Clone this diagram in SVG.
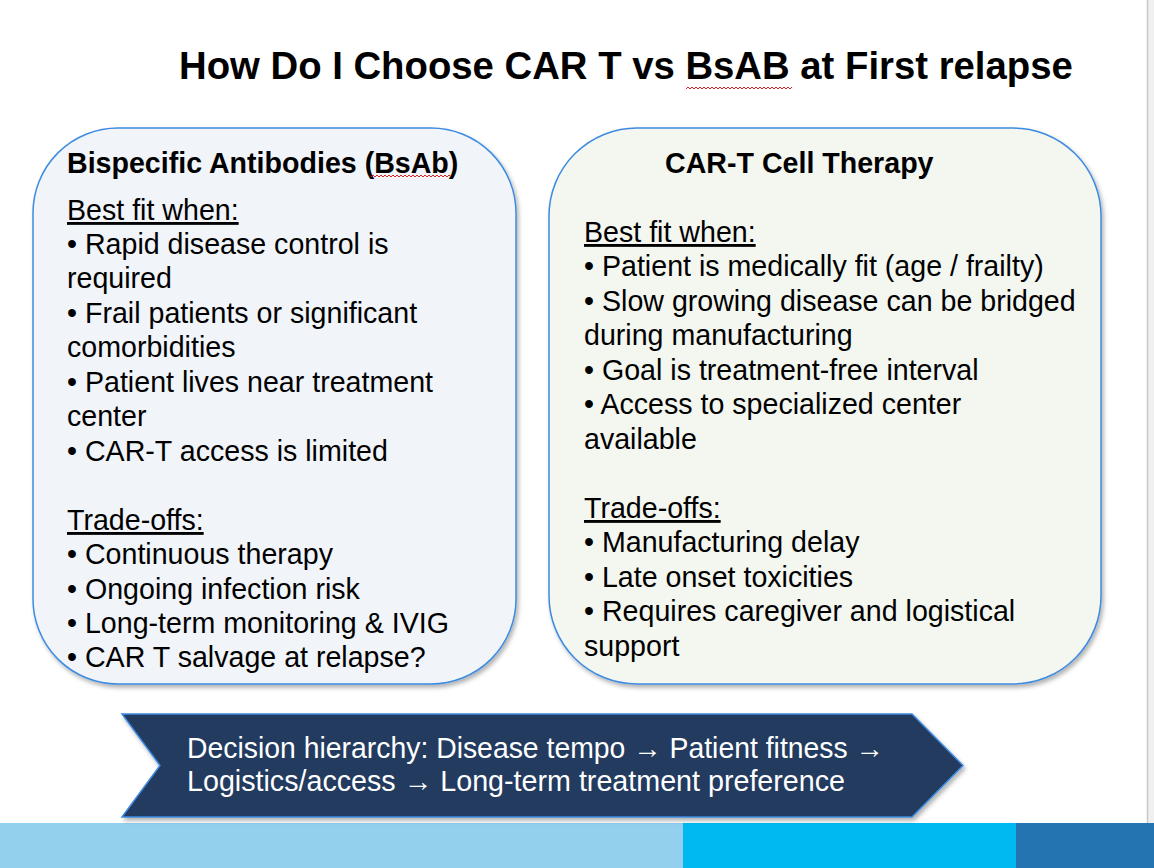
<svg xmlns="http://www.w3.org/2000/svg" width="1154" height="868" viewBox="0 0 1154 868">
<style>
.t{font-family:"Liberation Sans",Arial,sans-serif;fill:#000}
.title{font-size:38.3px;font-weight:bold}
.h{font-size:28.6px;font-weight:bold}
.b{font-size:28.6px}
.u{text-decoration:underline}
.w{font-family:"Liberation Sans",Arial,sans-serif;font-size:28.6px;fill:#fff}
.box{stroke:#3D8BE0;stroke-width:1.5}
.sq{fill:none;stroke:#E02020;stroke-width:1}
</style>
<defs>
<filter id="sh" x="-5%" y="-5%" width="110%" height="115%">
<feDropShadow dx="2" dy="3" stdDeviation="2" flood-color="#000" flood-opacity="0.3"/>
</filter>
</defs>
<rect width="1154" height="868" fill="#fff"/>
<rect x="1148" y="0" width="6" height="823" fill="#F0F0F0"/>
<line x1="1147.5" y1="0" x2="1147.5" y2="823" stroke="#C8C8C8" stroke-width="1.5"/>
<g id="bars">
<rect x="0" y="823" width="683" height="45" fill="#92D0EE"/>
<rect x="683" y="823" width="333" height="45" fill="#00B9F1"/>
<rect x="1016" y="823" width="138" height="45" fill="#2574B2"/>
</g>
<g id="title">
<text class="t title" x="179" y="79">How Do I Choose CAR T vs BsAB at First relapse</text>
<path class="sq" d="M686 89 l2 -2 l2 2 l2 -2 l2 2 l2 -2 l2 2 l2 -2 l2 2 l2 -2 l2 2 l2 -2 l2 2 l2 -2 l2 2 l2 -2 l2 2 l2 -2 l2 2 l2 -2 l2 2 l2 -2 l2 2 l2 -2 l2 2 l2 -2 l2 2 l2 -2 l2 2 l2 -2 l2 2 l2 -2 l2 2 l2 -2 l2 2 l2 -2 l2 2 l2 -2 l2 2 l2 -2 l2 2 l2 -2 l2 2 l2 -2 l2 2 l2 -2 l2 2 l2 -2 l2 2 l2 -2 l2 2 l2 -2 l2 2 l2 -2"/>
</g>
<g id="bsab">
<rect class="box" x="33" y="128" width="483" height="556" rx="85" ry="85" fill="#F1F4F9" filter="url(#sh)"/>
<text class="t h" x="67" y="173">Bispecific Antibodies (BsAb)</text>
<path class="sq" d="M371 177 l2 -2 l2 2 l2 -2 l2 2 l2 -2 l2 2 l2 -2 l2 2 l2 -2 l2 2 l2 -2 l2 2 l2 -2 l2 2 l2 -2 l2 2 l2 -2 l2 2 l2 -2 l2 2 l2 -2 l2 2 l2 -2 l2 2 l2 -2 l2 2 l2 -2 l2 2 l2 -2 l2 2 l2 -2 l2 2 l2 -2 l2 2 l2 -2 l2 2 l2 -2 l2 2 l2 -2 l2 2"/>
<text class="t b" x="67">
<tspan x="67" y="220" class="u">Best fit when:</tspan>
<tspan x="67" y="254">• Rapid disease control is</tspan>
<tspan x="67" y="288">required</tspan>
<tspan x="67" y="323">• Frail patients or significant</tspan>
<tspan x="67" y="357">comorbidities</tspan>
<tspan x="67" y="392">• Patient lives near treatment</tspan>
<tspan x="67" y="426">center</tspan>
<tspan x="67" y="461">• CAR-T access is limited</tspan>
<tspan x="67" y="530" class="u">Trade-offs:</tspan>
<tspan x="67" y="564">• Continuous therapy</tspan>
<tspan x="67" y="599">• Ongoing infection risk</tspan>
<tspan x="67" y="633">• Long-term monitoring &amp; IVIG</tspan>
<tspan x="67" y="667">• CAR T salvage at relapse?</tspan>
</text>
</g>
<g id="cart">
<rect class="box" x="549" y="128" width="552" height="556" rx="88" ry="88" fill="#F4F6F0" filter="url(#sh)"/>
<text class="t h" x="665" y="173">CAR-T Cell Therapy</text>
<text class="t b">
<tspan x="584" y="242" class="u">Best fit when:</tspan>
<tspan x="584" y="276">• Patient is medically fit (age / frailty)</tspan>
<tspan x="584" y="311">• Slow growing disease can be bridged</tspan>
<tspan x="584" y="345">during manufacturing</tspan>
<tspan x="584" y="380">• Goal is treatment-free interval</tspan>
<tspan x="584" y="414">• Access to specialized center</tspan>
<tspan x="584" y="449">available</tspan>
<tspan x="584" y="518" class="u">Trade-offs:</tspan>
<tspan x="584" y="552">• Manufacturing delay</tspan>
<tspan x="584" y="587">• Late onset toxicities</tspan>
<tspan x="584" y="621">• Requires caregiver and logistical</tspan>
<tspan x="584" y="656">support</tspan>
</text>
</g>
<g id="hierarchy">
<path d="M122 714 L912 714 L963 765.5 L912 817 L122 817 L160 765.5 Z" fill="#243A5E" stroke="#3D8BE0" stroke-width="1.5" filter="url(#sh)"/>
<text class="w">
<tspan x="187" y="758" textLength="697" lengthAdjust="spacingAndGlyphs">Decision hierarchy: Disease tempo → Patient fitness →</tspan>
<tspan x="187" y="791" textLength="658" lengthAdjust="spacingAndGlyphs">Logistics/access → Long-term treatment preference</tspan>
</text>
</g>
</svg>
